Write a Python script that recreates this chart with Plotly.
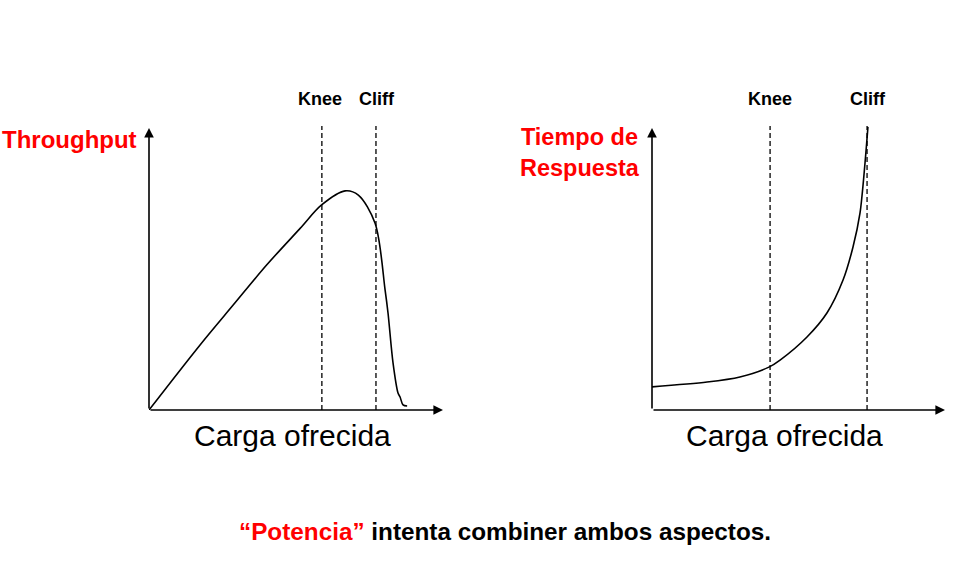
import plotly.graph_objects as go

# ---- data (load in % of axis length, metric in % of axis height) ----
thr_load = [0, 17.3, 28.7, 40.0, 51.4, 58.7, 66.7, 71.2, 76.9, 80.3, 81.3, 83.0, 84.7, 85.4, 86.4, 87.8]
thr_value = [0, 23.0, 37.3, 51.4, 64.4, 72.7, 77.7, 76.2, 66.2, 42.6, 34.4, 16.7, 6.0, 4.6, 1.8, 1.4]

rt_load = [0, 18.8, 30.0, 39.9, 43.7, 52.9, 59.7, 65.2, 68.6, 71.0, 72.7, 73.7]
rt_value = [8.2, 9.9, 11.7, 15.2, 17.7, 25.9, 34.4, 46.1, 57.8, 69.9, 87.6, 100.4]

thr_knee, thr_cliff = 58.8, 77.2
rt_knee, rt_cliff = 40.3, 73.4

x_label = "Carga ofrecida"
left_ylabel = "Throughput"
right_ylabel = "Tiempo de<br>Respuesta"
caption = '<span style="color:#ff0000">“Potencia”</span> intenta combiner ambos aspectos.'

W, H = 979, 567
FONT = "Liberation Sans, Arial, sans-serif"

def px(x):
    return x / W

def py(y):
    return 1 - y / H

fig = go.Figure()
fig.add_trace(go.Scatter(x=thr_load, y=thr_value, mode="lines",
                         line=dict(color="black", width=1.6, shape="spline", smoothing=0.9),
                         xaxis="x", yaxis="y", hoverinfo="skip", showlegend=False))
fig.add_trace(go.Scatter(x=rt_load, y=rt_value, mode="lines",
                         line=dict(color="black", width=1.6, shape="spline", smoothing=0.8),
                         xaxis="x2", yaxis="y2", hoverinfo="skip", showlegend=False))

y_top = (410 - 120) / 2.82
common = dict(visible=False, fixedrange=True)
fig.update_layout(
    width=W, height=H, autosize=False,
    margin=dict(l=0, r=0, t=0, b=0),
    paper_bgcolor="white", plot_bgcolor="rgba(0,0,0,0)",
    xaxis=dict(domain=[px(149), px(443)], range=[0, 100], **common),
    yaxis=dict(domain=[py(410), py(120)], range=[0, y_top], **common),
    xaxis2=dict(domain=[px(652), px(945)], range=[0, 100], anchor="y2", **common),
    yaxis2=dict(domain=[py(410), py(120)], range=[0, y_top], anchor="x2", **common),
    showlegend=False,
)

shapes = []
for xr, yr, xs in (("x", "y", (thr_knee, thr_cliff)), ("x2", "y2", (rt_knee, rt_cliff))):
    for xv in xs:
        shapes.append(dict(type="line", xref=xr, yref=yr, x0=xv, x1=xv, y0=0, y1=100.7,
                           line=dict(color="black", width=1.3, dash="5px,3px")))
fig.update_layout(shapes=shapes)

ann = []
for xr, yr in (("x", "y"), ("x2", "y2")):
    for (tx, ty) in ((100, 0), (0, 100)):
        ann.append(dict(xref=xr, yref=yr, x=tx, y=ty, ax=0, ay=0, axref=xr, ayref=yr,
                        text="", showarrow=True, arrowhead=2, arrowsize=1.2, arrowwidth=1.6,
                        arrowcolor="black", standoff=0, startstandoff=0))

def label(x, y, text, size, color="black", bold=True, xanchor="center"):
    t = f"<b>{text}</b>" if bold else text
    return dict(xref="paper", yref="paper", x=px(x), y=py(y), text=t, showarrow=False,
                xanchor=xanchor, yanchor="middle", font=dict(family=FONT, size=size, color=color))

ann += [
    label(320, 99, "Knee", 18),
    label(377, 99, "Cliff", 18),
    label(770, 99, "Knee", 18),
    label(868, 99, "Cliff", 18),
    label(0, 139, left_ylabel, 24, color="#ff0000", xanchor="left"),
    label(580, 153, right_ylabel, 23.5, color="#ff0000"),
    label(292, 435, x_label, 30, bold=False),
    label(784, 435, x_label, 30, bold=False),
    label(505, 531, caption, 24.3),
]
fig.update_layout(annotations=ann)

fig.write_html("out.html")
